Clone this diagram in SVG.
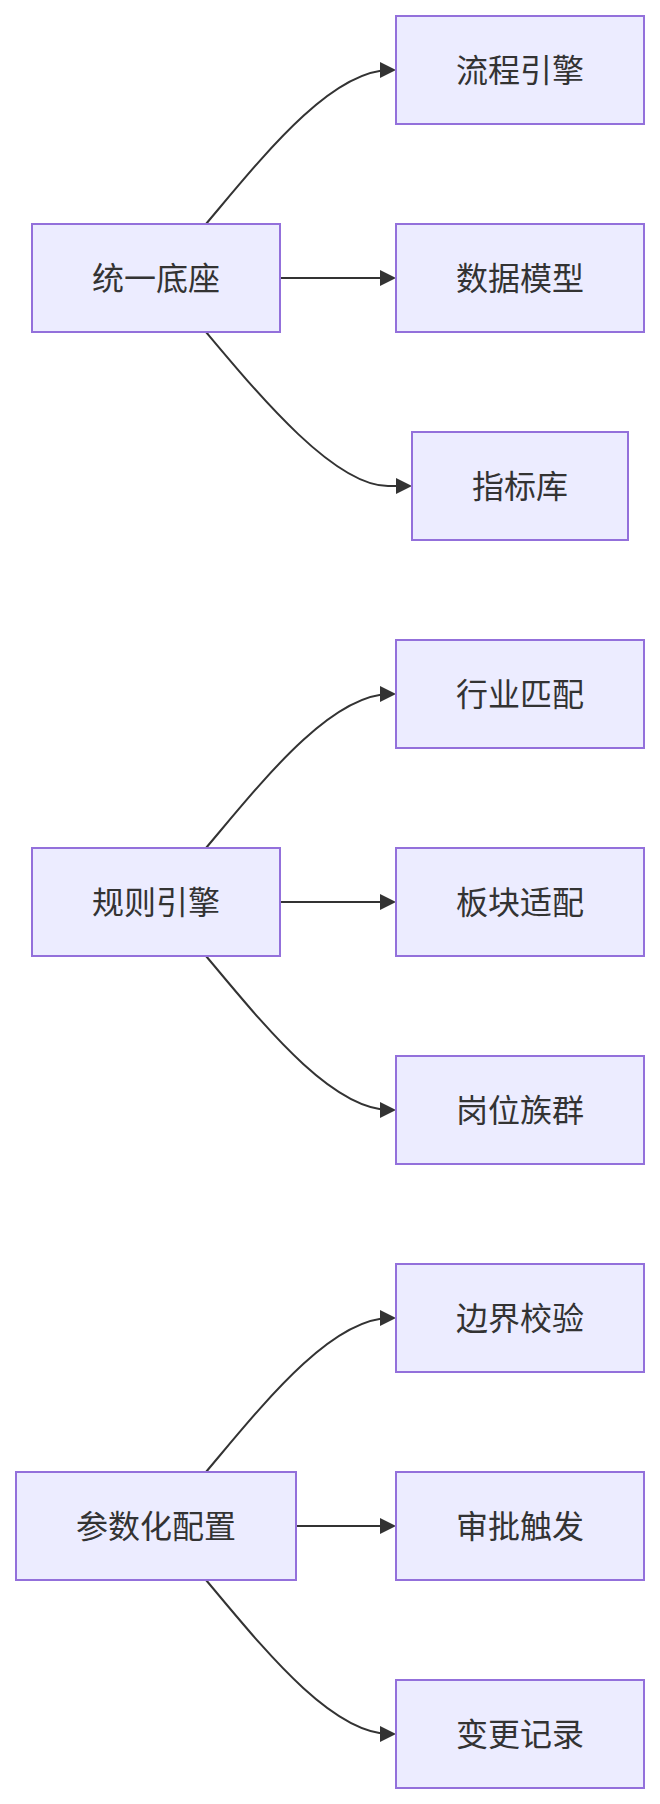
<svg xmlns="http://www.w3.org/2000/svg" width="660" height="1804" viewBox="0 0 660 1804">
<style>
.node rect{fill:#ECECFF;stroke:#9370DB;stroke-width:2}
.node text{font-family:"Noto Sans CJK SC","Noto Sans",sans-serif;font-size:32px;fill:#333;text-anchor:middle}
.edge{fill:none;stroke:#333;stroke-width:2}
</style>
<defs>
<marker id="arr" viewBox="0 0 10 10" refX="6.25" refY="5" markerWidth="16" markerHeight="16" markerUnits="userSpaceOnUse" orient="auto">
<path d="M0,0L10,5L0,10z" fill="#333"/>
</marker>
</defs>
<rect width="660" height="1804" fill="#fff"/>
<g id="connectors">
<path class="edge" marker-end="url(#arr)" d="M206,224C260,160 330,70 390,70"/>
<path class="edge" marker-end="url(#arr)" d="M280,278L390,278"/>
<path class="edge" marker-end="url(#arr)" d="M206,332C258,394 334,486 388,486L406,486"/>
<path class="edge" marker-end="url(#arr)" d="M206,848C260,784 330,694 390,694"/>
<path class="edge" marker-end="url(#arr)" d="M280,902L390,902"/>
<path class="edge" marker-end="url(#arr)" d="M206,956C260,1020 330,1110 390,1110"/>
<path class="edge" marker-end="url(#arr)" d="M206,1472C260,1408 330,1318 390,1318"/>
<path class="edge" marker-end="url(#arr)" d="M296,1526L390,1526"/>
<path class="edge" marker-end="url(#arr)" d="M206,1580C260,1644 330,1734 390,1734"/>
</g>
<g id="n-tongyi" class="node"><rect x="32" y="224" width="248" height="108"/><text x="156" y="290">统一底座</text></g>
<g id="n-liucheng" class="node"><rect x="396" y="16" width="248" height="108"/><text x="520" y="82">流程引擎</text></g>
<g id="n-shuju" class="node"><rect x="396" y="224" width="248" height="108"/><text x="520" y="290">数据模型</text></g>
<g id="n-zhibiao" class="node"><rect x="412" y="432" width="216" height="108"/><text x="520" y="498">指标库</text></g>
<g id="n-guize" class="node"><rect x="32" y="848" width="248" height="108"/><text x="156" y="914">规则引擎</text></g>
<g id="n-hangye" class="node"><rect x="396" y="640" width="248" height="108"/><text x="520" y="706">行业匹配</text></g>
<g id="n-bankuai" class="node"><rect x="396" y="848" width="248" height="108"/><text x="520" y="914">板块适配</text></g>
<g id="n-gangwei" class="node"><rect x="396" y="1056" width="248" height="108"/><text x="520" y="1122">岗位族群</text></g>
<g id="n-canshu" class="node"><rect x="16" y="1472" width="280" height="108"/><text x="156" y="1538">参数化配置</text></g>
<g id="n-bianjie" class="node"><rect x="396" y="1264" width="248" height="108"/><text x="520" y="1330">边界校验</text></g>
<g id="n-shenpi" class="node"><rect x="396" y="1472" width="248" height="108"/><text x="520" y="1538">审批触发</text></g>
<g id="n-biangeng" class="node"><rect x="396" y="1680" width="248" height="108"/><text x="520" y="1746">变更记录</text></g>
</svg>
